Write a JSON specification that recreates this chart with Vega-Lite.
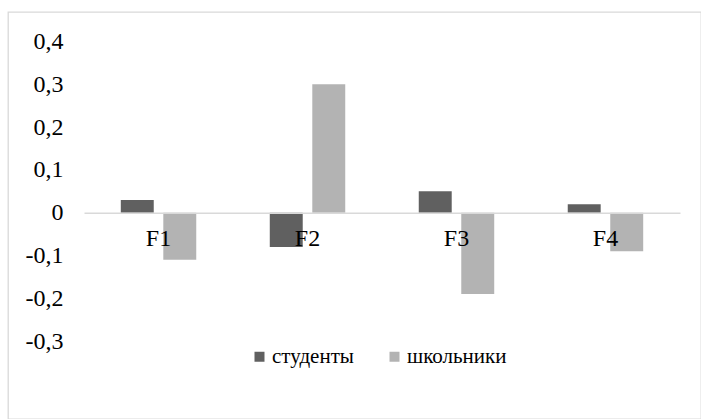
{
  "$schema": "https://vega.github.io/schema/vega-lite/v6.json",
  "width": 693,
  "height": 407,
  "padding": {"left": 8, "top": 12, "right": 0, "bottom": 0},
  "autosize": "none",
  "background": "white",
  "config": {
    "view": {"stroke": "#d9d9d9", "strokeWidth": 1.3},
    "font": "Liberation Serif",
    "axis": {"labelFont": "Liberation Serif"},
    "legend": {"labelFont": "Liberation Serif"}
  },
  "data": {
    "values": [
      {"factor": "F1", "group": "студенты", "value": 0.03},
      {"factor": "F1", "group": "школьники", "value": -0.11},
      {"factor": "F2", "group": "студенты", "value": -0.08},
      {"factor": "F2", "group": "школьники", "value": 0.30},
      {"factor": "F3", "group": "студенты", "value": 0.05},
      {"factor": "F3", "group": "школьники", "value": -0.19},
      {"factor": "F4", "group": "студенты", "value": 0.02},
      {"factor": "F4", "group": "школьники", "value": -0.09}
    ]
  },
  "mark": {"type": "bar"},
  "encoding": {
    "x": {
      "field": "factor",
      "type": "nominal",
      "scale": {"range": [76, 672], "paddingInner": 0.4935, "paddingOuter": 0.247},
      "axis": {
        "orient": "bottom",
        "offset": -206.3,
        "title": null,
        "labelAngle": 0,
        "ticks": false,
        "domain": true,
        "domainColor": "#d9d9d9",
        "domainWidth": 1.5,
        "labelFont": "Liberation Serif",
        "labelFontSize": 24,
        "labelColor": "#000000",
        "labelPadding": 14,
        "zindex": 1,
        "grid": false
      }
    },
    "xOffset": {
      "field": "group",
      "type": "nominal",
      "sort": ["студенты", "школьники"],
      "scale": {"paddingInner": 0.225, "paddingOuter": 0}
    },
    "y": {
      "field": "value",
      "type": "quantitative",
      "scale": {"domain": [-0.482, 0.469], "nice": false, "zero": false},
      "axis": {
        "orient": "left",
        "offset": -76,
        "title": null,
        "values": [-0.3, -0.2, -0.1, 0, 0.1, 0.2, 0.3, 0.4],
        "labelExpr": "datum.value == 0 ? '0' : replace(replace(format(datum.value, '.1f'), '.', ','), '−', '-')",
        "ticks": false,
        "domain": false,
        "grid": false,
        "labelFont": "Liberation Serif",
        "labelFontSize": 24,
        "labelColor": "#000000",
        "labelPadding": 21,
        "labelFlush": false,
        "labelOverlap": false
      }
    },
    "color": {
      "field": "group",
      "type": "nominal",
      "scale": {"domain": ["студенты", "школьники"], "range": ["#606060", "#b3b3b3"]},
      "legend": {
        "orient": "none",
        "legendX": 241,
        "legendY": 334,
        "direction": "horizontal",
        "title": null,
        "symbolType": "square",
        "symbolSize": 100,
        "symbolStrokeWidth": 0,
        "labelFont": "Liberation Serif",
        "labelFontSize": 21,
        "labelColor": "#000000",
        "labelOffset": 2,
        "columnPadding": 30,
        "padding": 0
      }
    }
  }
}
